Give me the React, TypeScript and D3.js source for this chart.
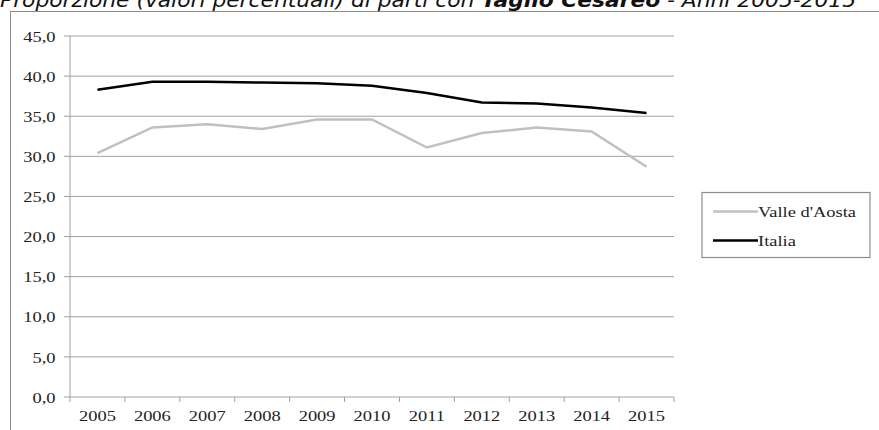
import React from 'react';
import * as d3 from 'd3';

const years = ['2005', '2006', '2007', '2008', '2009', '2010', '2011', '2012', '2013', '2014', '2015'];
const valleDAosta = [30.4, 33.6, 34.0, 33.4, 34.6, 34.6, 31.1, 32.9, 33.6, 33.1, 28.7];
const italia = [38.3, 39.3, 39.3, 39.2, 39.1, 38.8, 37.9, 36.7, 36.6, 36.1, 35.4];
const yTicks = [0, 5, 10, 15, 20, 25, 30, 35, 40, 45];

const series = [
  { name: "Valle d'Aosta", values: valleDAosta, color: '#c0c0c0' },
  { name: 'Italia', values: italia, color: '#000000' },
];

const W = 879;
const H = 430;
const plot = { left: 70, right: 674, top: 36, bottom: 397 };
const serif = '"Liberation Serif", "DejaVu Serif", serif';
const gridColor = '#a0a0a0';

// the source's labels are wider than their height suggests, so stretch them
const Label = ({ x, y, anchor = 'start', children }: any) => (
  <g transform={`translate(${x},${y}) scale(1.23,1)`}>
    <text x={0} y={0} textAnchor={anchor} fontFamily={serif} fontSize={15} fill="#222">
      {children}
    </text>
  </g>
);

export default function App() {
  const x = d3.scaleBand<string>().domain(years).range([plot.left, plot.right]);
  const y = d3.scaleLinear().domain([0, 45]).range([plot.bottom, plot.top]);
  const line = d3
    .line<number>()
    .x((_, i) => (x(years[i]) as number) + x.bandwidth() / 2)
    .y(d => y(d));
  const fmt = (v: number) => v.toFixed(1).replace('.', ',');

  return (
    <svg
      width={W}
      height={H}
      style={{ position: 'absolute', left: 0, top: 0, background: '#fff' }}
    >
      {/* title, clipped at the top as in the source */}
      <text
        x={0}
        y={7}
        fontFamily='"DejaVu Sans", Verdana, sans-serif'
        fontSize={19}
        fontStyle="italic"
        fill="#111"
        textLength={856}
        lengthAdjust="spacingAndGlyphs"
      >
        Proporzione (valori percentuali) di parti con{' '}
        <tspan fontWeight="bold">Taglio Cesareo</tspan> - Anni 2005-2015
      </text>

      {/* outer frame */}
      <line x1={10} x2={W} y1={11.5} y2={11.5} stroke="#8c8c8c" />
      <line x1={10.5} x2={10.5} y1={11.5} y2={H} stroke="#8c8c8c" />

      {/* gridlines and y axis labels */}
      {yTicks.map(t => (
        <g key={t}>
          <line x1={plot.left - 6} x2={plot.right} y1={y(t)} y2={y(t)} stroke={gridColor} />
          <Label x={55.5} y={y(t) + 5.7} anchor="end">
            {fmt(t)}
          </Label>
        </g>
      ))}
      <line x1={plot.left} x2={plot.left} y1={plot.top} y2={plot.bottom} stroke={gridColor} />

      {/* x axis ticks and labels */}
      {years.map(yr => (
        <g key={yr}>
          <line
            x1={x(yr) as number}
            x2={x(yr) as number}
            y1={plot.bottom}
            y2={plot.bottom + 5}
            stroke={gridColor}
          />
          <Label x={(x(yr) as number) + x.bandwidth() / 2} y={plot.bottom + 24} anchor="middle">
            {yr}
          </Label>
        </g>
      ))}
      <line x1={plot.right} x2={plot.right} y1={plot.bottom} y2={plot.bottom + 5} stroke={gridColor} />

      {/* series */}
      {series.map(s => (
        <path
          key={s.name}
          d={line(s.values) ?? ''}
          fill="none"
          stroke={s.color}
          strokeWidth={2.5}
        />
      ))}

      {/* legend */}
      <rect x={702} y={192.5} width={168} height={65} fill="#fff" stroke="#8c8c8c" strokeWidth={1.2} />
      {series.map((s, i) => {
        const ly = 211.5 + i * 29;
        return (
          <g key={s.name}>
            <line x1={713} x2={758} y1={ly} y2={ly} stroke={s.color} strokeWidth={2.5} />
            <Label x={758} y={ly + 5}>
              {s.name}
            </Label>
          </g>
        );
      })}
    </svg>
  );
}
